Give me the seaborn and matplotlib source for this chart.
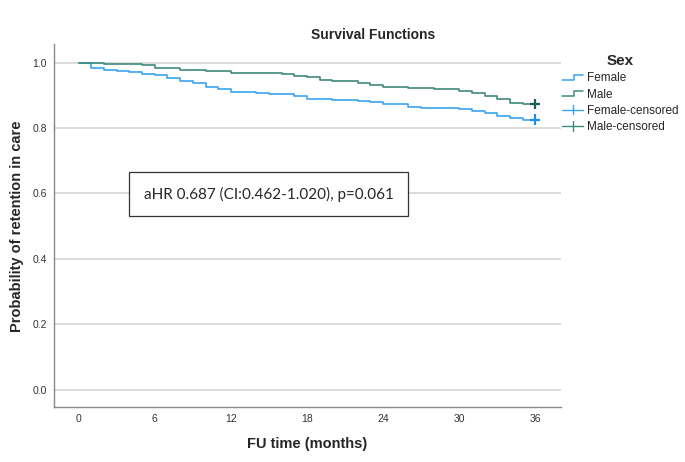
import numpy as np
import pandas as pd
import seaborn as sns
import matplotlib.pyplot as plt
from matplotlib.lines import Line2D
from matplotlib.legend_handler import HandlerBase

# step data (months, survival)
female_time = [0, 1, 2, 3, 4, 5, 6, 7, 8, 9, 10, 11, 12, 14, 15, 17, 18, 20,
               22, 23, 24, 26, 27, 30, 31, 32, 33, 34, 35, 36]
female_surv = [1.0, 0.983, 0.978, 0.975, 0.970, 0.966, 0.963, 0.953, 0.945,
               0.937, 0.925, 0.919, 0.911, 0.907, 0.904, 0.898, 0.890, 0.887,
               0.883, 0.879, 0.875, 0.865, 0.862, 0.858, 0.853, 0.847, 0.837,
               0.832, 0.826, 0.826]
male_time = [0, 2, 5, 6, 8, 10, 12, 16, 17, 18, 19, 20, 22, 23, 24, 26, 27,
             28, 30, 31, 32, 33, 34, 35, 36]
male_surv = [1.0, 0.997, 0.993, 0.984, 0.978, 0.974, 0.967, 0.964, 0.960,
             0.956, 0.947, 0.944, 0.937, 0.933, 0.927, 0.924, 0.921, 0.918,
             0.914, 0.906, 0.898, 0.889, 0.878, 0.874, 0.874]
censor_time = [36, 36]
censor_surv = [0.826, 0.874]
censor_sex = ['Female', 'Male']

x_ticks = [0, 6, 12, 18, 24, 30, 36]
y_ticks = [0.0, 0.2, 0.4, 0.6, 0.8, 1.0]

df = pd.concat([
    pd.DataFrame({'time': female_time, 'surv': female_surv, 'Sex': 'Female'}),
    pd.DataFrame({'time': male_time, 'surv': male_surv, 'Sex': 'Male'}),
])
cens = pd.DataFrame({'time': censor_time, 'surv': censor_surv, 'Sex': censor_sex})

pal = {'Female': '#3ba4f0', 'Male': '#3f8a7e'}
cens_pal = {'Female': '#1f8fe0', 'Male': '#1d5f55'}

sns.set_style('white')
plt.rcParams['font.family'] = ['Liberation Sans', 'DejaVu Sans']

fig = plt.figure(figsize=(6.85, 4.62), dpi=100)
ax = fig.add_axes([0.0784, 0.1184, 0.7401, 0.7856])

for y in y_ticks:
    ax.axhline(y, color='#d9d9d9', lw=1.3, zorder=0)

sns.lineplot(data=df, x='time', y='surv', hue='Sex', palette=pal,
             drawstyle='steps-post', lw=1.2, legend=False, ax=ax,
             estimator=None)
sns.scatterplot(data=cens, x='time', y='surv', hue='Sex', palette=cens_pal,
                marker='+', s=55, linewidth=1.6, legend=False, ax=ax, zorder=5)

ax.set_xlim(-1.97, 38.0)
ax.set_ylim(-0.054, 1.056)
ax.set_xticks(x_ticks)
ax.set_yticks(y_ticks)
ax.set_yticklabels([f'{v:.1f}' for v in y_ticks])
ax.tick_params(length=0, labelsize=7.5, labelcolor='#333333', pad=5)
for s in ['top', 'right']:
    ax.spines[s].set_visible(False)
for s in ['left', 'bottom']:
    ax.spines[s].set_color('#888888')
    ax.spines[s].set_linewidth(1.0)

ax.set_xlabel('FU time (months)', fontsize=10.5, fontweight='bold', labelpad=9)
ax.set_ylabel('Probability of retention in care', fontsize=10.5,
              fontweight='bold', labelpad=6)
ax.set_title('Survival Functions', fontsize=10, fontweight='bold', pad=4,
             x=0.63)

ax.text(15.0, 0.597, 'aHR 0.687 (CI:0.462-1.020), p=0.061', fontsize=11,
        family=['Lato', 'DejaVu Sans'], ha='center', va='center', zorder=6,
        bbox=dict(boxstyle='square,pad=0.95', fc='white', ec='#333333', lw=0.9))


class StepHandler(HandlerBase):
    def create_artists(self, legend, orig, xd, yd, w, h, fontsize, trans):
        xs = [0, w * 0.55, w * 0.55, w]
        ys = [h * 0.15, h * 0.15, h * 0.8, h * 0.8]
        ln = Line2D(xs, ys, color=orig.get_color(), lw=1.1, transform=trans)
        return [ln]


class CrossHandler(HandlerBase):
    def create_artists(self, legend, orig, xd, yd, w, h, fontsize, trans):
        l1 = Line2D([0, w], [h / 2, h / 2], color=orig.get_color(), lw=1.0,
                    transform=trans)
        l2 = Line2D([w / 2, w / 2], [-0.1 * h, 1.1 * h], color=orig.get_color(),
                    lw=1.0, transform=trans)
        return [l1, l2]


h_f = Line2D([], [], color=pal['Female'])
h_m = Line2D([], [], color=pal['Male'])
h_fc = Line2D([], [], color='#3ba4f0')
h_mc = Line2D([], [], color='#3f8a7e')
leg = fig.legend([h_f, h_m, h_fc, h_mc],
                 ['Female', 'Male', 'Female-censored', 'Male-censored'],
                 handler_map={h_f: StepHandler(), h_m: StepHandler(),
                              h_fc: CrossHandler(), h_mc: CrossHandler()},
                 title='Sex', loc='upper left', bbox_to_anchor=(0.807, 0.903),
                 frameon=False, fontsize=8.5, handlelength=1.8,
                 handletextpad=0.3, labelspacing=0.35, borderpad=0.3)
leg.get_title().set_fontweight('bold')
leg.get_title().set_fontsize(11)

fig.savefig('out.png', dpi=100)
